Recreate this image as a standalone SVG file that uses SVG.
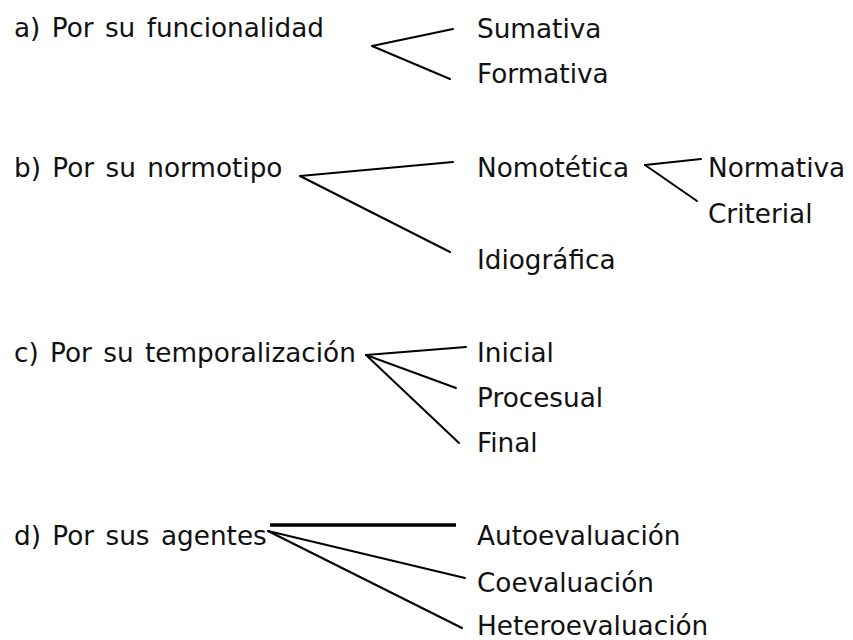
<svg xmlns="http://www.w3.org/2000/svg" width="853" height="640" viewBox="0 0 853 640">
<style>
text{font-family:"DejaVu Sans","Liberation Sans",sans-serif;font-size:26.3px;fill:#111;word-spacing:3px}
.c line{stroke:#000;stroke-width:2;stroke-linecap:round}
</style>
<rect width="853" height="640" fill="#fff"/>
<g id="a"><text x="14" y="36.5">a) Por su funcionalidad</text></g>
<g id="sumativa"><text x="477" y="37.5">Sumativa</text></g>
<g id="formativa"><text x="477" y="82.5">Formativa</text></g>
<g id="b"><text x="14" y="176.5">b) Por su normotipo</text></g>
<g id="nomotetica"><text x="477" y="176.5">Nomotética</text></g>
<g id="idiografica"><text x="477" y="268.5">Idiográfica</text></g>
<g id="normativa"><text x="708" y="176.5">Normativa</text></g>
<g id="criterial"><text x="708" y="222.5">Criterial</text></g>
<g id="c"><text x="14" y="361.5">c) Por su temporalización</text></g>
<g id="inicial"><text x="477" y="361.5">Inicial</text></g>
<g id="procesual"><text x="477" y="406.5">Procesual</text></g>
<g id="final"><text x="477" y="451.5">Final</text></g>
<g id="d"><text x="14" y="544.5">d) Por sus agentes</text></g>
<g id="auto"><text x="477" y="544.5">Autoevaluación</text></g>
<g id="co"><text x="477" y="591.5">Coevaluación</text></g>
<g id="hetero"><text x="477" y="634.5">Heteroevaluación</text></g>
<g id="connectors" class="c">
<line x1="372" y1="46" x2="453" y2="29"/>
<line x1="372" y1="46" x2="450" y2="79"/>
<line x1="300" y1="176" x2="453" y2="162"/>
<line x1="300" y1="176" x2="450" y2="252"/>
<line x1="645" y1="165" x2="701" y2="159"/>
<line x1="645" y1="165" x2="697" y2="201"/>
<line x1="366" y1="355" x2="466" y2="347"/>
<line x1="366" y1="355" x2="456" y2="388"/>
<line x1="366" y1="355" x2="459" y2="443"/>
<line x1="270" y1="525" x2="456" y2="525" style="stroke-width:3.5;stroke-linecap:butt"/>
<line x1="268" y1="531" x2="465" y2="578"/>
<line x1="268" y1="531" x2="462" y2="628"/>
</g>
</svg>
